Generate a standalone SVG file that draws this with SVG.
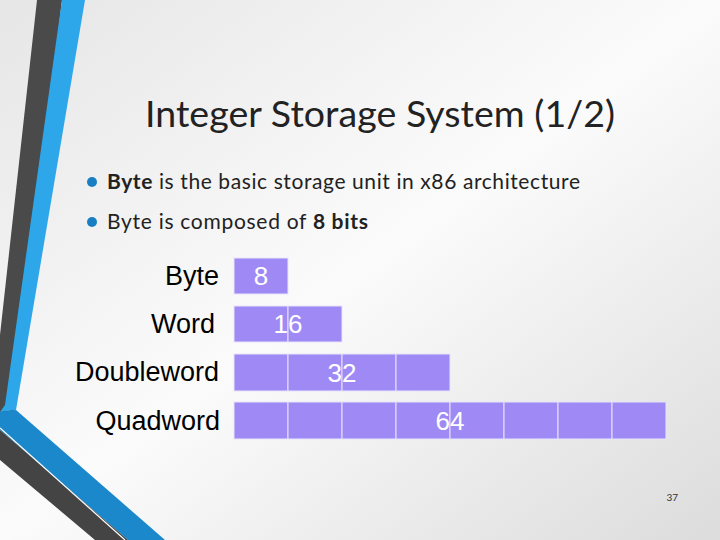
<svg xmlns="http://www.w3.org/2000/svg" width="720" height="540" viewBox="0 0 720 540">
<defs>
<linearGradient id="bg" x1="0" y1="0" x2="1" y2="1"><stop offset="0" stop-color="#e6e6e6"/><stop offset="0.5" stop-color="#fbfbfb"/><stop offset="1" stop-color="#dcdcdc"/></linearGradient>
</defs>
<style>
.c{fill:#9f8af5;stroke:#e8e4f8;stroke-width:1}
.lab{font-family:"Liberation Sans",Arial,sans-serif;font-size:27px;fill:#000}
.num{font-family:"Liberation Sans",Arial,sans-serif;font-size:26px;fill:#fff}
.b{font-family:"Lato","Open Sans",sans-serif;font-size:21px;fill:#222}
</style>
<rect width="720" height="540" fill="url(#bg)"/>
<g id="decor">
<polygon points="37,0 62,0 14,412 0,412 0,335" fill="#4a4a4a"/>
<polygon points="62,0 85,0 16,410 0,412 5,405" fill="#2ea7ea"/>
<polygon points="0,412 16,410 165,540 128,540 0,430" fill="#1b88cc"/>
<polygon points="0,430 128,540 95,540 0,460" fill="#444"/>
<line x1="0" y1="428" x2="125" y2="540" stroke="#fff" stroke-width="1.2"/>
</g>
<text x="380" y="127" text-anchor="middle" font-family="Lato,'Open Sans',sans-serif" font-size="37.5" fill="#222" textLength="470">Integer Storage System (1/2)</text>
<g id="bullets">
<circle cx="92" cy="182" r="5" fill="#1a7fc2"/>
<text x="107" y="189" class="b" textLength="473"><tspan font-weight="bold">Byte</tspan> is the basic storage unit in x86 architecture</text>
<circle cx="92" cy="222" r="5" fill="#1a7fc2"/>
<text x="107" y="229" class="b" textLength="261">Byte is composed of <tspan font-weight="bold">8 bits</tspan></text>
</g>
<g id="byte">
<text x="219" y="285" text-anchor="end" class="lab">Byte</text>
<rect class="c" x="234" y="258" width="54" height="36"/>
<text x="261" y="285" text-anchor="middle" class="num">8</text>
</g>
<g id="word">
<text x="215" y="333" text-anchor="end" class="lab">Word</text>
<rect class="c" x="234" y="306" width="54" height="36"/><rect class="c" x="288" y="306" width="54" height="36"/>
<text x="288" y="333" text-anchor="middle" class="num">16</text>
</g>
<g id="doubleword">
<text x="219" y="381" text-anchor="end" class="lab">Doubleword</text>
<rect class="c" x="234" y="354" width="54" height="37"/><rect class="c" x="288" y="354" width="54" height="37"/><rect class="c" x="342" y="354" width="54" height="37"/><rect class="c" x="396" y="354" width="54" height="37"/>
<text x="342" y="382" text-anchor="middle" class="num">32</text>
</g>
<g id="quadword">
<text x="220" y="430" text-anchor="end" class="lab">Quadword</text>
<rect class="c" x="234" y="402" width="54" height="37"/><rect class="c" x="288" y="402" width="54" height="37"/><rect class="c" x="342" y="402" width="54" height="37"/><rect class="c" x="396" y="402" width="54" height="37"/><rect class="c" x="450" y="402" width="54" height="37"/><rect class="c" x="504" y="402" width="54" height="37"/><rect class="c" x="558" y="402" width="54" height="37"/><rect class="c" x="612" y="402" width="54" height="37"/>
<text x="450" y="430" text-anchor="middle" class="num">64</text>
</g>
<text x="678" y="501" text-anchor="end" font-family="Lato,sans-serif" font-size="10" fill="#333">37</text>
</svg>
